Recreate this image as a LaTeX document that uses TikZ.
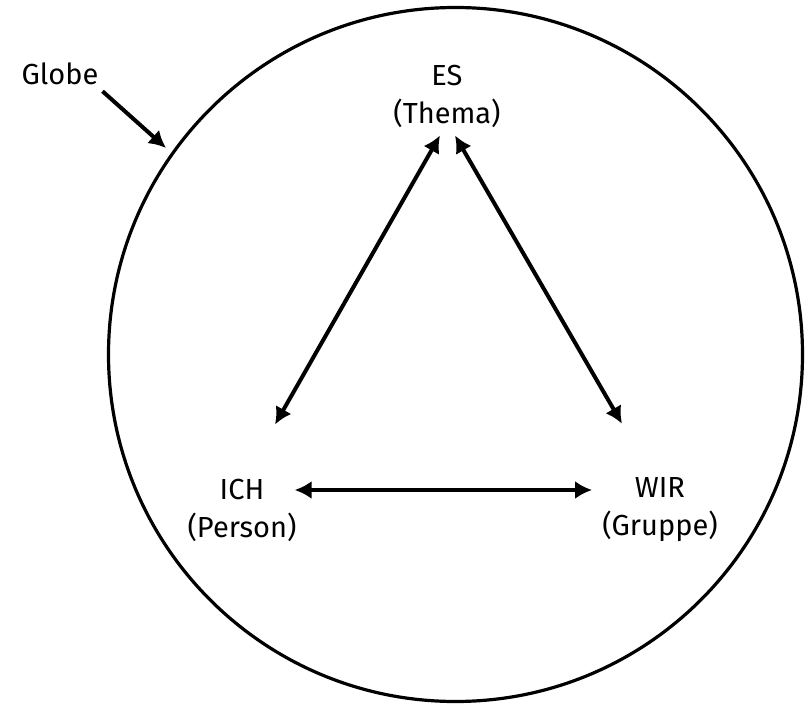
\documentclass[tikz,border=0pt]{standalone}
\usepackage{fontspec}
\setmainfont{Fira Sans}
\usepackage{tikz}
\usetikzlibrary{arrows.meta}

\begin{document}
\begin{tikzpicture}[x=1pt, y=-1pt,
    lbl/.style={align=center, font=\fontsize{29}{38}\selectfont, inner sep=0pt},
    tip/.style={-{Latex[length=17pt,width=18pt]}},
    conn/.style={line width=4pt, {Latex[length=17pt,width=18pt]}-{Latex[length=17pt,width=18pt]}}]
    \useasboundingbox (0,0) rectangle (807,704);
    \draw[line width=3.2pt] (455.5,354.5) circle (347);
    \node[lbl] (globe) at (60,74) {Globe};
    \node[lbl] (es) at (447,96) {ES\\(Thema)};
    \node[lbl] (ich) at (242,510) {ICH\\(Person)};
    \node[lbl] (wir) at (660,510) {WIR\\(Gruppe)};
    \draw[line width=4pt, tip] ([xshift=4pt,yshift=-6pt]globe.south east) -- (166,148);
    \draw[conn] ([xshift=-7pt,yshift=-8pt]es.south) -- ([xshift=33pt,yshift=54pt]ich.north);
    \draw[conn] ([xshift=8pt,yshift=-8pt]es.south) -- ([xshift=-38pt,yshift=54pt]wir.north);
    \draw[conn] ([xshift=-2pt,yshift=20pt]ich.east) -- ([xshift=-10pt,yshift=20pt]wir.west);
\end{tikzpicture}
\end{document}
